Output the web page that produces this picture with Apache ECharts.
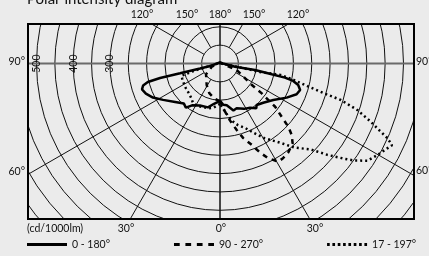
<!DOCTYPE html>
<html><head><meta charset="utf-8">
<script src="https://cdn.jsdelivr.net/npm/echarts@6/dist/echarts.min.js"></script>
<style>html,body{margin:0;padding:0;background:#ebebeb}#c{width:429px;height:256px}</style>
</head><body><div id="c"></div>
<script>
// ---- data (angle: 0 = nadir, 90 = left horizontal, 180 = up, 270 = right horizontal) ----
const seriesNames = ['0 - 180°', '90 - 270°', '17 - 197°'];

const solidAngles = [0, 8.4, 15.3, 25.5, 33.7, 37.7, 42, 49.4, 57.4, 63.1, 67.9, 71.6, 74, 75.6, 76.4, 76.2, 76, 76, 90, 180, 270, 282, 280.5, 281.8, 282.3, 283.4, 285.4, 288.3, 291.9, 297.1, 304.4, 312.2, 318.5, 321, 325.8, 332, 339.6, 344, 350.8, 355.4, 360];
const solidValues = [102, 111, 124, 127, 137, 152, 147, 161, 184, 205, 218, 224, 218, 203, 168, 112, 56, 22, 8, 3, 8, 42, 97, 144, 181, 205, 221, 230, 225, 204, 176, 159, 151, 157, 146, 140, 130, 133, 115, 113, 102];

const dashedAngles = [0, 9.8, 19.8, 31.7, 52.4, 69, 85, 180, 275, 291.3, 303.4, 305.6, 308.1, 310.8, 312.8, 314.9, 317.7, 322.3, 326.4, 329.3, 333, 335.8, 338.7, 342.7, 345.9, 350, 354, 358.5, 360];
const dashedValues = [103, 96, 86, 69, 48, 24, 6, 2, 6, 49, 98, 140, 191, 222, 254, 276, 294, 305, 310, 311, 290, 266, 238, 213, 187, 158, 132, 108, 103];

const dottedAngles = [0, 2.3, 8.6, 14.6, 22.9, 28.9, 33.9, 40.3, 44.9, 53.9, 60, 67.6, 72.3, 74.5, 76, 90, 180, 270, 281, 282, 280.7, 282.6, 284.5, 286, 286.8, 288.7, 291.1, 292.7, 294, 295.4, 296.9, 300.2, 303.4, 305.9, 307.5, 310.4, 313.4, 318.6, 322.5, 329.4, 333.9, 338.8, 343.7, 347.4, 351.3, 355.1, 359, 360];
const dottedValues = [110, 113, 122, 126, 128, 131, 131, 122, 118, 115, 113, 111, 110, 70, 30, 6, 2, 6, 50, 111, 168, 207, 246, 295, 344, 395, 440, 470, 499, 519, 511, 496, 481, 451, 426, 384, 341, 305, 273, 236, 211, 188, 175, 162, 145, 127, 113, 110];

const radiusTicks = [300, 400, 500];
const topTickLabels = ['120°', '150°', '180°', '150°', '120°'];
const sideTickLabels = ['90°', '60°'];
const bottomTickLabels = ['30°', '0°', '30°'];
const unitLabel = '(cd/1000lm)';
const titleText = 'Polar intensity diagram';

// ---- layout ----
const BG = '#ebebeb';
const FONT = 'Lato, "Open Sans", sans-serif';
const FS = 10.5;
const C = [220, 63.5];
const K = 0.367;
const RMAX = 700;
const box = {x: 28, y: 24, w: 386, h: 195};

const hidden = {axisLine: {show: false}, axisTick: {show: false}, axisLabel: {show: false}, splitLine: {show: false}};
const pairs = (a, v) => a.map((x, i) => [v[i], x]);

const tText = (text, x, y, align) => ({
  type: 'text', z: 60, x, y,
  style: {text, fill: '#111', font: FS + 'px ' + FONT, textAlign: align, textVerticalAlign: 'middle'}
});
const topX = [142, 187, 220, 254, 298];
const botX = [126, 221, 315];

// legend icons (line samples)
const iconSolid = 'path://M0,0H40V3H0Z';
const iconDashed = 'path://M0,0h5v3h-5zM10,0h5v3h-5zM20,0h5v3h-5zM30,0h5v3h-5z';
let dots = '';
for (let i = 0; i < 8; i++) dots += 'M' + (i * 5) + ',0h2.5v3h-2.5z';
const iconDotted = 'path://' + dots;
const icons = [iconSolid, iconDashed, iconDotted];

const chart = echarts.init(document.getElementById('c'), null, {renderer: 'canvas'});
chart.setOption({
  backgroundColor: BG,
  animation: false,
  title: {text: titleText, left: 27, top: -8, padding: 0, z: 60, textStyle: {fontFamily: FONT, fontSize: 15, fontWeight: 'normal', color: '#111'}},
  legend: {
    left: 27, top: 239, padding: 0, z: 60, width: 400, itemWidth: 40, itemHeight: 3, itemGap: 64,
    symbolKeepAspect: false,
    itemStyle: {color: '#000'},
    textStyle: {fontFamily: FONT, fontSize: FS, color: '#111'},
    data: seriesNames.map((n, i) => ({name: n, icon: icons[i]}))
  },
  polar: [
    {center: C, radius: [50 * K, RMAX * K]},
    {center: C, radius: [0, RMAX * K]},
    {center: C, radius: [0, RMAX * K]}
  ],
  angleAxis: [
    Object.assign({}, hidden, {polarIndex: 0, type: 'value', startAngle: 180, min: 0, max: 360, interval: 30,
      splitLine: {show: true, lineStyle: {color: '#111', width: 1}}}),
    Object.assign({}, hidden, {polarIndex: 1, type: 'value', startAngle: 0, min: 0, max: 360, interval: 180,
      splitLine: {show: true, lineStyle: {color: '#6a6a6a', width: 2}}}),
    Object.assign({}, hidden, {polarIndex: 2, type: 'value', startAngle: -90, clockwise: true, min: 0, max: 360, interval: 180,
      splitLine: {show: true, lineStyle: {color: '#111', width: 1}}})
  ],
  radiusAxis: [
    Object.assign({}, hidden, {polarIndex: 0, type: 'value', min: 50, max: RMAX, interval: 50,
      splitLine: {show: true, lineStyle: {color: '#111', width: 1}},
      axisLabel: {show: true, rotate: 90, margin: -9, color: '#111', fontFamily: FONT, fontSize: FS,
        formatter: v => radiusTicks.includes(v) ? String(v) : ''}}),
    Object.assign({}, hidden, {polarIndex: 1, type: 'value', min: 0, max: RMAX}),
    Object.assign({}, hidden, {polarIndex: 2, type: 'value', min: 0, max: RMAX})
  ],
  series: [
    {type: 'line', name: seriesNames[0], coordinateSystem: 'polar', polarIndex: 2, symbol: 'none', z: 10,
      data: pairs(solidAngles, solidValues), lineStyle: {color: '#000', width: 2.5, type: 'solid'}, itemStyle: {color: '#000'}},
    {type: 'line', name: seriesNames[1], coordinateSystem: 'polar', polarIndex: 2, symbol: 'none', z: 10,
      data: pairs(dashedAngles, dashedValues), lineStyle: {color: '#000', width: 2.5, type: [5, 5]}, itemStyle: {color: '#000'}},
    {type: 'line', name: seriesNames[2], coordinateSystem: 'polar', polarIndex: 2, symbol: 'none', z: 10,
      data: pairs(dottedAngles, dottedValues), lineStyle: {color: '#000', width: 2.5, type: [2, 3]}, itemStyle: {color: '#000'}}
  ],
  graphic: [
    {type: 'rect', z: 50, silent: true, shape: {x: 0, y: 0, width: 429, height: box.y}, style: {fill: BG}},
    {type: 'rect', z: 50, silent: true, shape: {x: 0, y: box.y + box.h, width: 429, height: 256 - box.y - box.h}, style: {fill: BG}},
    {type: 'rect', z: 50, silent: true, shape: {x: 0, y: 0, width: box.x, height: 256}, style: {fill: BG}},
    {type: 'rect', z: 50, silent: true, shape: {x: box.x + box.w, y: 0, width: 429 - box.x - box.w, height: 256}, style: {fill: BG}},
    {type: 'rect', z: 55, silent: true, shape: {x: box.x, y: box.y, width: box.w, height: box.h}, style: {fill: null, stroke: '#000', lineWidth: 2}},
    ...topTickLabels.map((t, i) => tText(t, topX[i], 15, 'center')),
    tText(sideTickLabels[0], 25, 62, 'right'),
    tText(sideTickLabels[0], 416, 62, 'left'),
    tText(sideTickLabels[1], 25, 172, 'right'),
    tText(sideTickLabels[1], 416, 171, 'left'),
    tText(unitLabel, 27, 229, 'left'),
    ...bottomTickLabels.map((t, i) => tText(t, botX[i], 229, 'center'))
  ]
});
</script></body></html>
